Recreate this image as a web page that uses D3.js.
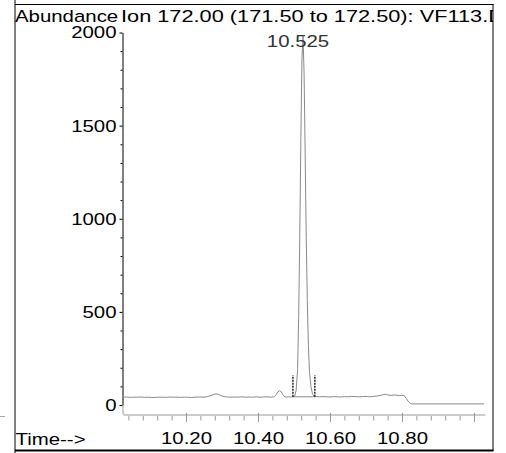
<!DOCTYPE html>
<html><head><meta charset="utf-8">
<script src="https://cdn.jsdelivr.net/npm/d3@7"></script>
<style>
html,body{margin:0;padding:0;background:#fff;}
svg{display:block;font-family:"Liberation Sans",Arial,sans-serif;}
</style></head>
<body>
<svg id="c" width="506" height="453"></svg>
<script>
// ---- data ----
const times = [10.025,10.035,10.045,10.055,10.065,10.075,10.085,10.095,10.105,10.115,10.125,10.135,10.145,10.155,10.165,10.175,10.185,10.195,10.205,10.215,10.225,10.235,10.245,10.255,10.265,10.275,10.283,10.290,10.298,10.306,10.315,10.325,10.335,10.345,10.355,10.365,10.375,10.385,10.395,10.405,10.415,10.425,10.435,10.445,10.450,10.455,10.460,10.465,10.470,10.475,10.480,10.485,10.490,10.497,10.502,10.506,10.510,10.513,10.516,10.519,10.522,10.525,10.528,10.531,10.534,10.537,10.540,10.543,10.547,10.551,10.555,10.560,10.570,10.580,10.590,10.600,10.610,10.620,10.630,10.640,10.650,10.660,10.670,10.680,10.690,10.700,10.710,10.720,10.730,10.740,10.750,10.755,10.760,10.770,10.780,10.790,10.800,10.806,10.812,10.818,10.824,10.830,10.900,11.000,11.028];
const abundance = [42,43,41,42,42,43,41,42,40,41,42,42,41,43,42,42,41,42,42,40,42,43,42,43,48,55,60,57,50,45,43,42,43,42,44,42,43,42,44,42,43,44,42,44,55,70,77,70,52,44,43,44,43,44,48,80,190,480,900,1420,1850,1985,1780,1350,900,560,320,180,100,62,48,45,44,45,44,43,45,44,43,45,44,46,45,44,45,46,44,46,48,52,56,58,54,52,54,51,52,50,35,18,7,6,6,6,6];
const yMajorTicks = [0,500,1000,1500,2000];
const yMinorTicks = [100,200,300,400,600,700,800,900,1100,1200,1300,1400,1600,1700,1800,1900];
const xMajorTicks = [10.20,10.40,10.60,10.80,11.00];
const xLabels = ["10.20","10.40","10.60","10.80",""];
const xMinorTicks = [10.04,10.08,10.12,10.16,10.24,10.28,10.32,10.36,10.44,10.48,10.52,10.56,10.64,10.68,10.72,10.76,10.84,10.88,10.92,10.96];
const peakLabel = "10.525";
const peakTime = 10.525;
const integrationMarks = [10.497, 10.558];
const titleLeft = "Abundance";
const titleRight = "Ion 172.00 (171.50 to 172.50): VF113.D";
const xAxisLabel = "Time-->";

// ---- layout ----
const svg = d3.select("#c");
const SX = 1.2, FS = 17;
const x = d3.scaleLinear().domain([10.025, 11.03]).range([123, 484.8]);
const y = d3.scaleLinear().domain([0, 2000]).range([405, 32.5]);

// frame
svg.append("clipPath").attr("id","clip").append("rect").attr("x",0).attr("y",0).attr("width",493).attr("height",453);
svg.append("line").attr("x1",15).attr("x2",15).attr("y1",0).attr("y2",453).attr("stroke","#000").attr("stroke-width",1);
svg.append("line").attr("x1",15).attr("x2",493.5).attr("y1",4.5).attr("y2",4.5).attr("stroke","#000");
svg.append("line").attr("x1",493).attr("x2",493).attr("y1",4).attr("y2",451).attr("stroke","#000");
svg.append("line").attr("x1",15).attr("x2",493.5).attr("y1",450.5).attr("y2",450.5).attr("stroke","#000").attr("stroke-width",2);
svg.append("line").attr("x1",0).attr("x2",5).attr("y1",416.5).attr("y2",416.5).attr("stroke","#aaa");

function stext(g, str, tx, ty, anchor, fill, sx){
  return g.append("text").attr("transform",`translate(${tx},${ty}) scale(${sx||SX},1)`)
    .attr("text-anchor",anchor||"start").attr("font-size",FS).attr("fill",fill||"#000").text(str);
}
const tg = svg.append("g").attr("clip-path","url(#clip)");
stext(tg, titleLeft, 15, 22);
stext(tg, titleRight, 121, 22, "start", "#000", 1.28);

// y axis
const yMinor = svg.append("g").attr("transform","translate(122.5,0)")
  .call(d3.axisLeft(y).tickValues(yMinorTicks).tickSize(2).tickFormat(""));
yMinor.select(".domain").remove();
const yMajor = svg.append("g").attr("transform","translate(122.5,0)")
  .call(d3.axisLeft(y).tickValues(yMajorTicks).tickSize(3).tickSizeOuter(0).tickFormat(d3.format("d")));
yMajor.select(".domain").attr("stroke","#000");
svg.selectAll("g.tick line").attr("stroke","#000");
yMajor.selectAll("text").attr("font-size",FS).attr("font-family","Liberation Sans, Arial, sans-serif")
  .attr("fill","#000").attr("x",-6/SX).attr("transform",`scale(${SX},1)`);

// connector from y axis to x axis
svg.append("line").attr("x1",123).attr("x2",123).attr("y1",405).attr("y2",414.5).attr("stroke","#999");

// x axis
const xAxisG = svg.append("g").attr("transform","translate(0,414.5)");
const xMinorG = xAxisG.append("g").call(d3.axisBottom(x).tickValues(xMinorTicks).tickSize(6).tickSizeOuter(0).tickFormat(""));
xMinorG.select(".domain").attr("stroke","#999");
xMinorG.selectAll(".tick line").attr("stroke","#999").attr("y1",1.5);
const xMajorG = xAxisG.append("g").call(d3.axisBottom(x).tickValues(xMajorTicks).tickSize(7.5).tickSizeOuter(0)
  .tickFormat((d,i)=>xLabels[i]));
xMajorG.select(".domain").remove();
xMajorG.selectAll(".tick line").attr("stroke","#999").attr("y1",-1.5);
xMajorG.selectAll("text").attr("font-size",FS).attr("font-family","Liberation Sans, Arial, sans-serif")
  .attr("fill","#000").attr("y",30).attr("dy",0).attr("transform",`scale(${SX},1)`);
stext(svg, xAxisLabel, 15.5, 444.5);

// signal
const pts = times.map((t,i)=>[t, abundance[i]]);
svg.append("path").datum(pts)
  .attr("d", d3.line().x(d=>x(d[0])).y(d=>y(d[1])))
  .attr("fill","none").attr("stroke","#8a8a8a").attr("stroke-width",1);

// integration baseline & markers
svg.append("line").attr("x1",x(integrationMarks[0])).attr("x2",x(integrationMarks[1]))
  .attr("y1",y(44)).attr("y2",y(44)).attr("stroke","#8a8a8a");
integrationMarks.forEach(t=>{
  svg.append("line").attr("x1",x(t)).attr("x2",x(t)).attr("y1",y(44)).attr("y2",y(160))
    .attr("stroke","#000").attr("stroke-width",1.3).attr("stroke-dasharray","2,1");
});

// peak label
stext(svg, peakLabel, x(peakTime)-5, 47.3, "middle", "#333");
</script>
</body></html>
